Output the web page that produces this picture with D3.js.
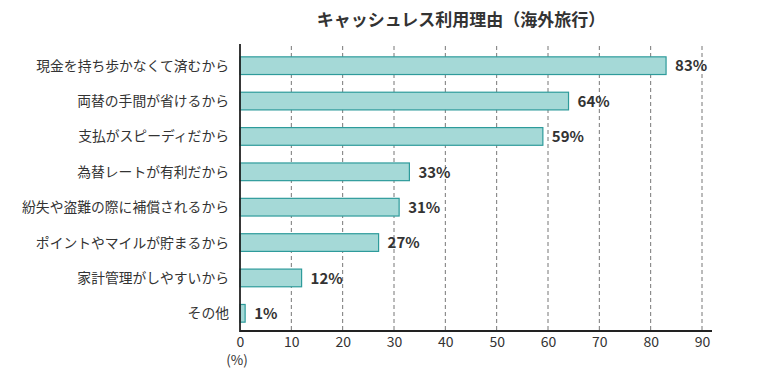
<!DOCTYPE html>
<html><head><meta charset="utf-8">
<script src="https://cdn.jsdelivr.net/npm/d3@7"></script>
<style>body{margin:0;background:#fff;} svg{display:block;font-family:"Noto Sans CJK JP","Noto Sans",sans-serif;}</style>
</head><body>
<svg id="chart" width="770" height="382"></svg>
<script>
const title = "キャッシュレス利用理由（海外旅行）";
const categories = ["現金を持ち歩かなくて済むから","両替の手間が省けるから","支払がスピーディだから","為替レートが有利だから","紛失や盗難の際に補償されるから","ポイントやマイルが貯まるから","家計管理がしやすいから","その他"];
const values = [83,64,59,33,31,27,12,1];
const ticks = [0,10,20,30,40,50,60,70,80,90];
const unitLabel = "(%)";

const svg = d3.select("#chart");
const x = d3.scaleLinear().domain([0,90]).range([240,702]);
const y = d3.scaleBand().domain(categories).range([48,331]).paddingInner(0.5).paddingOuter(0.25);

svg.append("text").attr("x",461).attr("y",26).attr("text-anchor","middle")
  .attr("font-size",17).attr("font-weight","bold").attr("fill","#333").text(title);

// gridlines
svg.append("g").selectAll("line").data(ticks.filter(t=>t>0)).join("line")
  .attr("x1",d=>x(d)).attr("x2",d=>x(d)).attr("y1",46).attr("y2",331)
  .attr("stroke","#777").attr("stroke-width",1).attr("stroke-dasharray","4,3");

// bars
svg.append("g").selectAll("rect").data(values).join("rect")
  .attr("x",x(0)).attr("y",(d,i)=>y(categories[i]))
  .attr("width",d=>x(d)-x(0)).attr("height",y.bandwidth())
  .attr("fill","#a5d9d7").attr("stroke","#2e9b9b").attr("stroke-width",1.2);

// value labels
svg.append("g").selectAll("text").data(values).join("text")
  .attr("x",d=>x(d)+9).attr("y",(d,i)=>y(categories[i])+y.bandwidth()/2)
  .attr("dy","0.38em").attr("font-size",15).attr("font-weight","bold").attr("fill","#333")
  .text(d=>d+"%");

// category labels
svg.append("g").selectAll("text").data(categories).join("text")
  .attr("x",229).attr("y",d=>y(d)+y.bandwidth()/2).attr("dy","0.36em")
  .attr("text-anchor","end").attr("font-size",13.8).attr("fill","#333").text(d=>d);

// x axis
const xAxis = svg.append("g").attr("transform","translate(0,331)")
  .call(d3.axisBottom(x).tickValues(ticks).tickSize(0).tickPadding(6));
xAxis.select(".domain").remove();
xAxis.selectAll("text").attr("font-size",14).attr("fill","#333").attr("font-family","'Noto Sans CJK JP','Noto Sans',sans-serif");
svg.append("line").attr("x1",x(0)).attr("x2",712).attr("y1",331).attr("y2",331).attr("stroke","#222").attr("stroke-width",1.8);
svg.append("line").attr("x1",x(0)).attr("x2",x(0)).attr("y1",44).attr("y2",331.9).attr("stroke","#222").attr("stroke-width",1.8);

svg.append("text").attr("x",237).attr("y",365).attr("text-anchor","middle").attr("font-size",13.5).attr("fill","#333").text(unitLabel);
</script>
</body></html>
